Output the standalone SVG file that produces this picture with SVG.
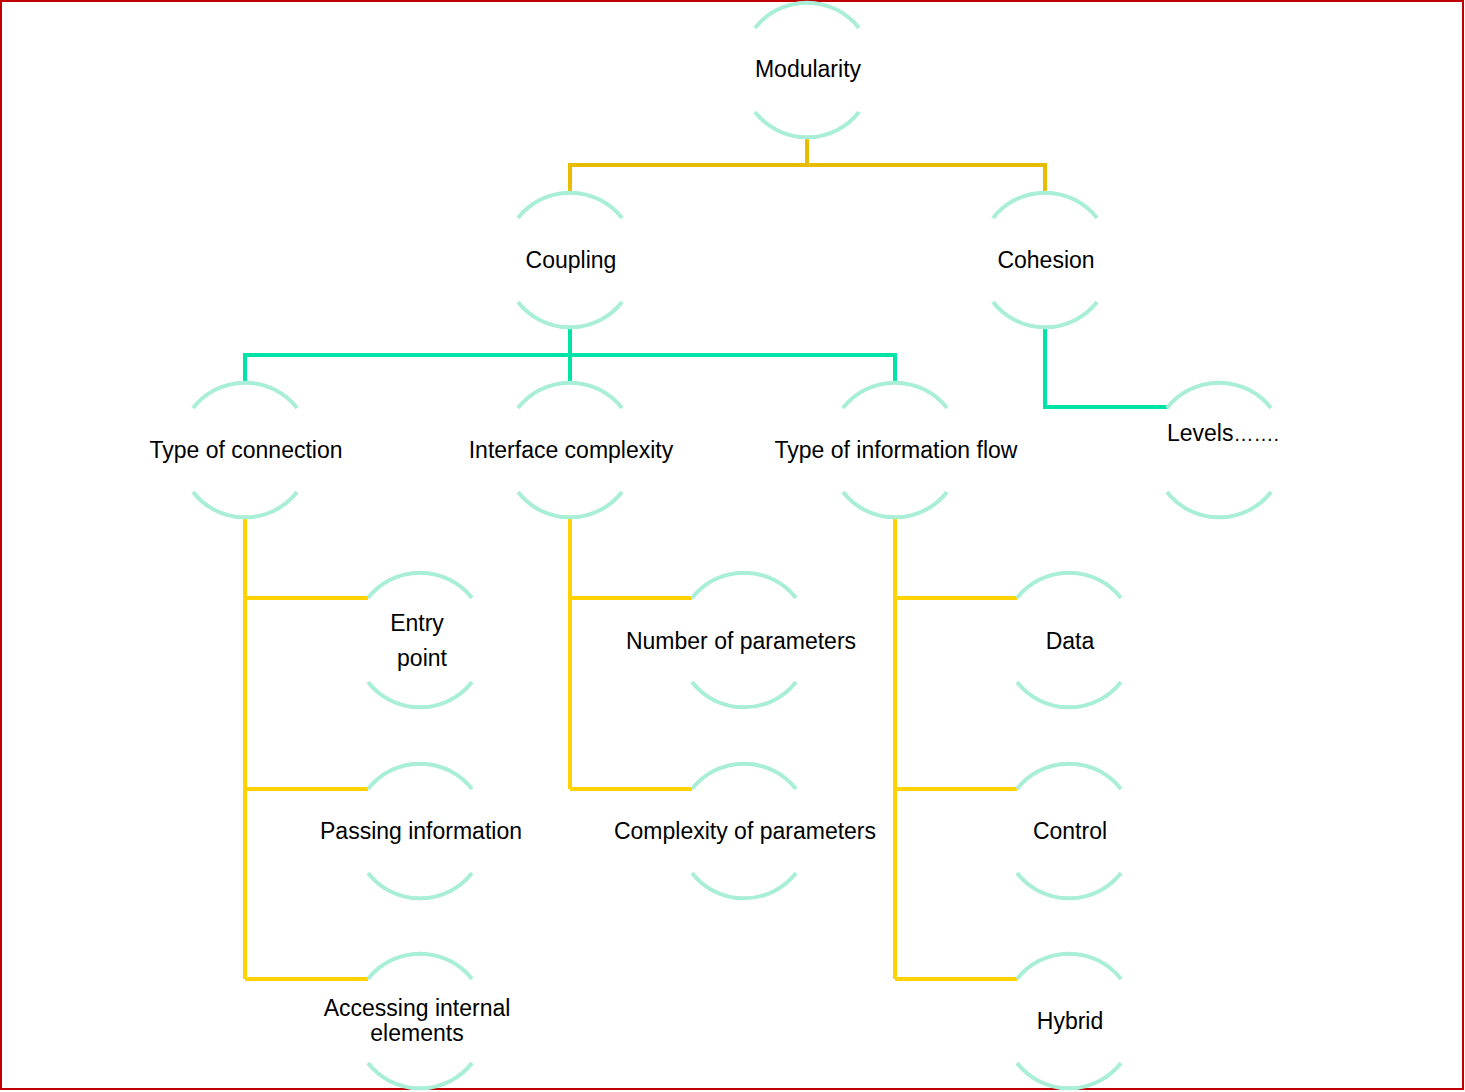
<svg xmlns="http://www.w3.org/2000/svg" width="1465" height="1092" viewBox="0 0 1465 1092">
<style>
.arc{fill:none;stroke:#A9EED6;stroke-width:4}
.gold{fill:none;stroke:#E8BC00;stroke-width:4}
.teal{fill:none;stroke:#00E3A6;stroke-width:4}
.yel{fill:none;stroke:#FFD200;stroke-width:4}
text{font-family:"Liberation Sans",Arial,sans-serif;font-size:23px;fill:#000;text-anchor:middle}
</style>
<rect x="1" y="1" width="1462" height="1088" fill="#fff" stroke="#C00000" stroke-width="2"/>
<g id="connectors">
<path class="gold" d="M807 136 V165 M570 194 V165 H1045 V194"/>
<path class="teal" d="M570 326 V355 M245 384 V355 H895 V384 M570 355 V384 M1045 326 V407 H1167"/>
<path class="yel" d="M245 516 V979 M245 598 H368 M245 789 H368 M245 979 H368"/>
<path class="yel" d="M570 516 V789 M570 598 H692 M570 789 H692"/>
<path class="yel" d="M895 516 V979 M895 598 H1017 M895 789 H1017 M895 979 H1017"/>
</g>
<g id="modularity"><path class="arc" d="M755 28 A66 66 0 0 1 859 28 M755 112 A66 66 0 0 0 859 112"/><text x="808" y="77">Modularity</text></g>
<g id="coupling"><path class="arc" d="M518 218 A66 66 0 0 1 622 218 M518 302 A66 66 0 0 0 622 302"/><text x="571" y="268">Coupling</text></g>
<g id="cohesion"><path class="arc" d="M993 218 A66 66 0 0 1 1097 218 M993 302 A66 66 0 0 0 1097 302"/><text x="1046" y="268">Cohesion</text></g>
<g id="type-connection"><path class="arc" d="M193 408 A66 66 0 0 1 297 408 M193 492 A66 66 0 0 0 297 492"/><text x="246" y="458">Type of connection</text></g>
<g id="interface-complexity"><path class="arc" d="M518 408 A66 66 0 0 1 622 408 M518 492 A66 66 0 0 0 622 492"/><text x="571" y="458">Interface complexity</text></g>
<g id="type-info-flow"><path class="arc" d="M843 408 A66 66 0 0 1 947 408 M843 492 A66 66 0 0 0 947 492"/><text x="896" y="458">Type of information flow</text></g>
<g id="levels"><path class="arc" d="M1167 408 A66 66 0 0 1 1271 408 M1167 492 A66 66 0 0 0 1271 492"/><text x="1167" y="441" style="text-anchor:start">Levels<tspan style="font-size:20px">…….</tspan></text></g>
<g id="entry-point"><path class="arc" d="M368 598 A66 66 0 0 1 472 598 M368 682 A66 66 0 0 0 472 682"/><text x="417" y="631">Entry</text><text x="422" y="666">point</text></g>
<g id="number-parameters"><path class="arc" d="M692 598 A66 66 0 0 1 796 598 M692 682 A66 66 0 0 0 796 682"/><text x="741" y="649">Number of parameters</text></g>
<g id="data"><path class="arc" d="M1017 598 A66 66 0 0 1 1121 598 M1017 682 A66 66 0 0 0 1121 682"/><text x="1070" y="649">Data</text></g>
<g id="passing-information"><path class="arc" d="M368 789 A66 66 0 0 1 472 789 M368 873 A66 66 0 0 0 472 873"/><text x="421" y="839">Passing information</text></g>
<g id="complexity-parameters"><path class="arc" d="M692 789 A66 66 0 0 1 796 789 M692 873 A66 66 0 0 0 796 873"/><text x="745" y="839">Complexity of parameters</text></g>
<g id="control"><path class="arc" d="M1017 789 A66 66 0 0 1 1121 789 M1017 873 A66 66 0 0 0 1121 873"/><text x="1070" y="839">Control</text></g>
<g id="accessing-internal"><path class="arc" d="M368 979 A66 66 0 0 1 472 979 M368 1063 A66 66 0 0 0 472 1063"/><text x="417" y="1016">Accessing internal</text><text x="417" y="1041">elements</text></g>
<g id="hybrid"><path class="arc" d="M1017 979 A66 66 0 0 1 1121 979 M1017 1063 A66 66 0 0 0 1121 1063"/><text x="1070" y="1029">Hybrid</text></g>
</svg>
